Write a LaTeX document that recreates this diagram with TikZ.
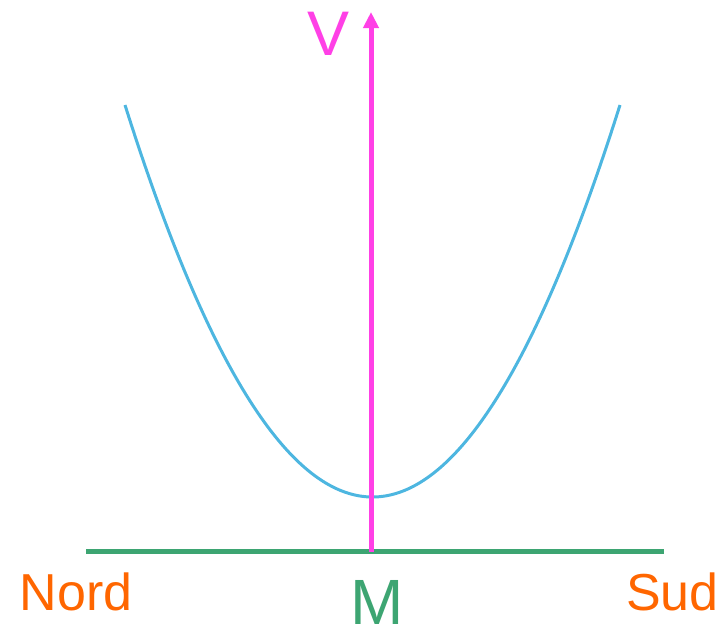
\documentclass[tikz,border=0pt]{standalone}
\usepackage{fontspec}
\setmainfont{Liberation Sans}
\usetikzlibrary{arrows.meta}
\definecolor{cmag}{HTML}{FF40E6}
\definecolor{cgreen}{HTML}{3DA572}
\definecolor{corange}{HTML}{FF6600}
\definecolor{cblue}{HTML}{4DB6E0}
\begin{document}
\begin{tikzpicture}[x=1pt,y=-1pt,
  lbl/.style={inner sep=0pt,anchor=base},
  axis/.style={line width=5pt,cgreen},
  vaxis/.style={line width=5pt,cmag,-{Triangle[length=16pt,width=15pt]}},
  curve/.style={line width=3pt,cblue}]
\useasboundingbox (0,0) rectangle (727,627);
\coordinate (L) at (86,551.5);
\coordinate (R) at (664,551.5);
\coordinate (B) at (371,551.5);
\coordinate (T) at (371,12);
\draw[curve] plot[domain=-247.5:247.5,samples=120,smooth] ({372.5+\x},{497-392*(\x/247.5)*(\x/247.5)});
\draw[axis] (L) -- (R);
\draw[vaxis] (B) -- (T);
\node[lbl,text=cmag,font=\fontsize{63}{63}\selectfont] (v) at (329,55) {V};
\node[lbl,text=corange,font=\fontsize{52}{52}\selectfont] (nord) at (76,610) {Nord};
\node[lbl,text=corange,font=\fontsize{52}{52}\selectfont] (sud) at (672.5,610) {Sud};
\node[lbl,text=cgreen,font=\fontsize{64}{64}\selectfont] (m) at (377.5,624) {M};
\end{tikzpicture}
\end{document}
